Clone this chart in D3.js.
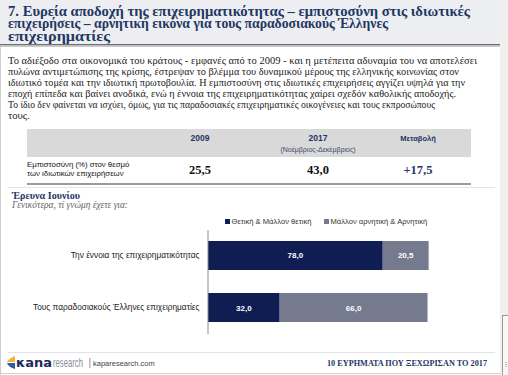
<!DOCTYPE html>
<html>
<head>
<meta charset="utf-8">
<script src="https://cdn.jsdelivr.net/npm/d3@7"></script>
<style>
  body { margin: 0; background: #ffffff; }
  svg { display: block; }
</style>
</head>
<body>
<script>
// δεδομένα
var categories = ["Την έννοια της επιχειρηματικότητας", "Τους παραδοσιακούς Έλληνες επιχειρηματίες"];
var seriesNames = ["Θετική & Μάλλον θετική", "Μάλλον αρνητική & Αρνητική"];
var positive = [78.0, 32.0];
var negative = [20.5, 66.0];

var tableCols = ["2009", "2017", "Μεταβολή"];
var tableValues = [25.5, 43.0, 17.5];

var titleLines = [
  "7. Ευρεία αποδοχή της επιχειρηματικότητας – εμπιστοσύνη στις ιδιωτικές",
  "επιχειρήσεις – αρνητική εικόνα για τους παραδοσιακούς Έλληνες",
  "επιχειρηματίες"
];
var textLines = [
  "Το αδιέξοδο στα οικονομικά του κράτους - εμφανές από το 2009 - και η μετέπειτα αδυναμία του να αποτελέσει",
  "πυλώνα αντιμετώπισης της κρίσης, έστρεψαν το βλέμμα του δυναμικού μέρους της ελληνικής κοινωνίας στον",
  "ιδιωτικό τομέα και την ιδιωτική πρωτοβουλία. Η εμπιστοσύνη στις ιδιωτικές επιχειρήσεις αγγίζει υψηλά για την",
  "εποχή επίπεδα και βαίνει ανοδικά, ενώ η έννοια της επιχειρηματικότητας χαίρει σχεδόν καθολικής αποδοχής.",
  "Το ίδιο δεν φαίνεται να ισχύει, όμως, για τις παραδοσιακές επιχειρηματικές οικογένειες και τους εκπροσώπους",
  "τους."
];

var navy = "#0f1d52", greyBar = "#767a8e", titleColor = "#1f3763";
var serif = "'Liberation Serif', serif", sans = "'Liberation Sans', Arial, sans-serif";

var width = 508, height = 375;
var svg = d3.select("body").append("svg").attr("width", width).attr("height", height);

// φόντο
svg.append("rect").attr("x", 0).attr("y", 0).attr("width", width).attr("height", height).attr("fill", "#ffffff");
svg.append("rect").attr("x", 500).attr("y", 0).attr("width", 8).attr("height", height).attr("fill", "#efefef");
svg.append("rect").attr("x", 502.5).attr("y", 315.5).attr("width", 8).attr("height", 62).attr("fill", "#f7f7f7").attr("stroke", "#9a9a9a");
svg.append("text").attr("x", 503).attr("y", 366).attr("font-size", 6).attr("fill", "#555").attr("font-family", sans).text("⋮");
svg.append("line").attr("x1", 0.5).attr("x2", 0.5).attr("y1", 45).attr("y2", 375).attr("stroke", "#cfcfcf");
svg.append("line").attr("x1", 0).attr("x2", 500).attr("y1", 373.5).attr("y2", 373.5).attr("stroke", "#cfcfcf");

// τίτλος
svg.append("rect").attr("x", 0).attr("y", 0).attr("width", 500).attr("height", 45).attr("fill", "#eceef1");
svg.append("rect").attr("x", 0).attr("y", 44).attr("width", 500).attr("height", 1.5).attr("fill", "#6f6f6f");
svg.append("rect").attr("x", 0).attr("y", 45.5).attr("width", 500).attr("height", 1.5).attr("fill", "#c9c9c9");
var titleW = [462, 380, 102];
svg.selectAll(".title").data(titleLines).enter().append("text")
  .attr("x", 8).attr("y", function(d, i) { return 15.5 + i * 12.6; })
  .attr("font-family", serif).attr("font-weight", "bold").attr("font-size", 15)
  .attr("fill", titleColor)
  .attr("textLength", function(d, i) { return titleW[i]; })
  .attr("lengthAdjust", "spacingAndGlyphs")
  .text(function(d) { return d; });

// κείμενο
var textW = [469, 451, 457, 448, 427, null];
svg.selectAll(".para").data(textLines).enter().append("text")
  .attr("x", 8).attr("y", function(d, i) { return 64 + i * 11; })
  .attr("font-family", serif).attr("font-size", 10.6).attr("fill", "#1a1a1a")
  .each(function(d, i) {
    if (textW[i]) d3.select(this).attr("textLength", textW[i]).attr("lengthAdjust", "spacingAndGlyphs");
  })
  .text(function(d) { return d; });

// πίνακας
var colX = [200, 318, 418];
svg.append("rect").attr("x", 27).attr("y", 129).attr("width", 444).attr("height", 28).attr("fill", "#d9d9d9");
svg.selectAll(".thead").data(tableCols).enter().append("text")
  .attr("x", function(d, i) { return colX[i]; }).attr("y", 141)
  .attr("text-anchor", "middle").attr("font-family", sans).attr("font-weight", "bold")
  .attr("font-size", function(d, i) { return i == 2 ? 7.5 : 8.5; })
  .attr("fill", titleColor).text(function(d) { return d; });
svg.append("text").attr("x", colX[1]).attr("y", 152).attr("text-anchor", "middle")
  .attr("font-family", sans).attr("font-size", 7).attr("fill", "#3b4a6b").text("(Νοέμβριος-Δεκέμβριος)");
svg.append("text").attr("x", 27).attr("y", 166.5).attr("font-family", sans).attr("font-size", 7.8).attr("fill", "#111").text("Εμπιστοσύνη (%) στον θεσμό");
svg.append("text").attr("x", 27).attr("y", 176).attr("font-family", sans).attr("font-size", 7.8).attr("fill", "#111").text("των ιδιωτικών επιχειρήσεων");
svg.selectAll(".tval").data(tableValues).enter().append("text")
  .attr("x", function(d, i) { return colX[i]; }).attr("y", 173.5)
  .attr("text-anchor", "middle").attr("font-family", serif).attr("font-weight", "bold").attr("font-size", 12.5)
  .attr("fill", function(d, i) { return i == 2 ? titleColor : "#111"; })
  .text(function(d, i) { return (i == 2 ? "+" : "") + d3.format(".1f")(d).replace(".", ","); });
svg.append("line").attr("x1", 27).attr("x2", 471).attr("y1", 184).attr("y2", 184).attr("stroke", "#7a7a7a").attr("stroke-width", 1.5);
svg.append("line").attr("x1", 8).attr("x2", 495).attr("y1", 187.5).attr("y2", 187.5).attr("stroke", "#e4e4e4");

// υπότιτλος γραφήματος
svg.append("text").attr("x", 12).attr("y", 198.5).attr("font-family", serif).attr("font-weight", "bold")
  .attr("font-size", 9.5).attr("fill", titleColor).attr("textLength", 68).attr("lengthAdjust", "spacingAndGlyphs").text("Έρευνα Ιουνίου");
svg.append("text").attr("x", 12).attr("y", 207.5).attr("font-family", serif).attr("font-style", "italic")
  .attr("font-size", 9.3).attr("fill", "#666").attr("textLength", 116).attr("lengthAdjust", "spacingAndGlyphs").text("Γενικότερα, τί γνώμη έχετε για:");

// κλίμακες
var xScale = d3.scaleLinear().domain([0, 100]).range([208, 432]);
var yScale = d3.scaleBand().domain(categories).range([229.5, 333.5]).paddingInner(23 / 52).paddingOuter(0.221);

var stacked = categories.map(function(c, i) {
  return [
    { cat: c, x0: 0, x1: positive[i], v: positive[i], color: navy },
    { cat: c, x0: positive[i], x1: positive[i] + negative[i], v: negative[i], color: greyBar }
  ];
});
var segs = [].concat.apply([], stacked);

svg.selectAll(".bar").data(segs).enter().append("rect")
  .attr("x", function(d) { return xScale(d.x0); })
  .attr("y", function(d) { return yScale(d.cat); })
  .attr("width", function(d) { return xScale(d.x1) - xScale(d.x0); })
  .attr("height", yScale.bandwidth())
  .attr("fill", function(d) { return d.color; });

svg.selectAll(".blabel").data(segs).enter().append("text")
  .attr("x", function(d) { return (xScale(d.x0) + xScale(d.x1)) / 2; })
  .attr("y", function(d) { return yScale(d.cat) + yScale.bandwidth() / 2 + 3; })
  .attr("text-anchor", "middle").attr("font-family", sans).attr("font-weight", "bold")
  .attr("font-size", 8).attr("fill", "#ffffff")
  .text(function(d) { return d3.format(".1f")(d.v).replace(".", ","); });

// άξονας
var yAxis = d3.axisLeft(yScale).tickSize(0).tickSizeOuter(0).tickPadding(8);
var axisG = svg.append("g").attr("transform", "translate(207.5,0)").call(yAxis);
axisG.select(".domain").attr("stroke", "#8c8c8c");
axisG.selectAll("text").attr("font-family", sans).attr("font-size", 8.3).attr("fill", "#222");

// υπόμνημα
var legX = [225, 324];
var leg = svg.selectAll(".leg").data(seriesNames).enter().append("g")
  .attr("transform", function(d, i) { return "translate(" + legX[i] + ",222)"; });
leg.append("rect").attr("x", 0).attr("y", -3).attr("width", 5).attr("height", 5)
  .attr("fill", function(d, i) { return i == 0 ? navy : greyBar; });
leg.append("text").attr("x", 6.5).attr("y", 2.3).attr("font-family", sans).attr("font-size", 7.6)
  .attr("fill", "#333").text(function(d) { return d; });

// υποσέλιδο
svg.append("line").attr("x1", 8).attr("x2", 495).attr("y1", 352.5).attr("y2", 352.5).attr("stroke", "#e4e4e4");
svg.append("path").attr("d", "M15,356 C10,358 7,361 7,362 L15,362 Z").attr("fill", "#f2b233");
svg.append("path").attr("d", "M7,363 L15,363 L15,369 C11,368 8,366 7,363 Z").attr("fill", "#2f5f9e");
svg.append("text").attr("x", 16).attr("y", 367).attr("font-family", "'DejaVu Sans', sans-serif").attr("font-weight", "bold")
  .attr("font-size", 13).attr("fill", "#1d2a5c").attr("textLength", 36).attr("lengthAdjust", "spacingAndGlyphs").text("κana");
svg.append("text").attr("x", 53).attr("y", 367).attr("font-family", sans)
  .attr("font-size", 13).attr("fill", "#8a8f99").attr("textLength", 30).attr("lengthAdjust", "spacingAndGlyphs").text("research");
svg.append("text").attr("x", 88.5).attr("y", 366).attr("font-family", sans).attr("font-size", 10).attr("fill", "#888").text("|");
svg.append("text").attr("x", 93).attr("y", 366).attr("font-family", sans).attr("font-size", 7.5).attr("fill", "#444").text("kaparesearch.com");
svg.append("text").attr("x", 487).attr("y", 366).attr("text-anchor", "end").attr("font-family", serif).attr("font-weight", "bold")
  .attr("font-size", 8).attr("fill", titleColor).attr("textLength", 160).attr("lengthAdjust", "spacingAndGlyphs")
  .text("10 ΕΥΡΗΜΑΤΑ ΠΟΥ ΞΕΧΩΡΙΣΑΝ ΤΟ 2017");
</script>
</body>
</html>
